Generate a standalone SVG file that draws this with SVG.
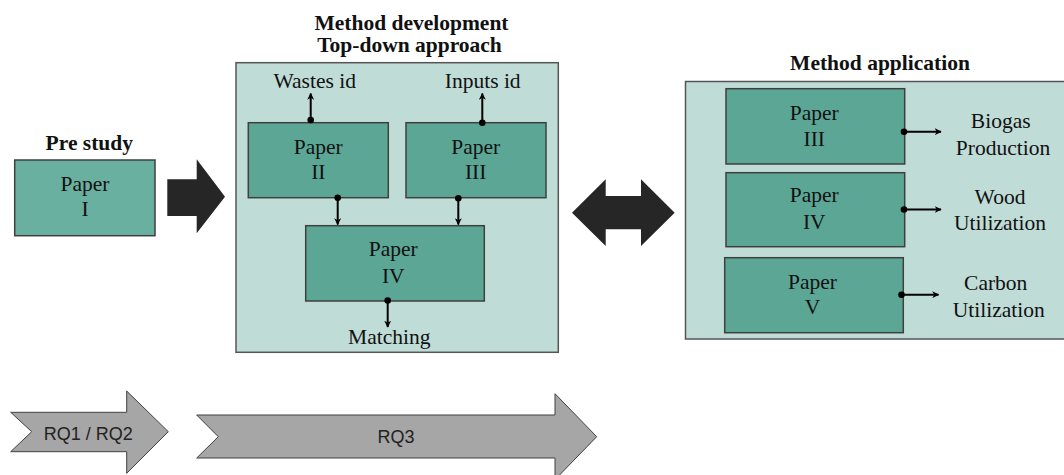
<svg xmlns="http://www.w3.org/2000/svg" width="1064" height="475" viewBox="0 0 1064 475">
<defs>
<style>
.t{font-family:"Liberation Serif","Times New Roman",serif;font-size:21.5px;fill:#111;text-anchor:middle}
.b{font-weight:bold}
.paper{fill:#5ca696;stroke:#3f3f3f;stroke-width:1.5}
.cont{fill:#c0dcd6;stroke:#555;stroke-width:1.5}
.big{fill:#262626;stroke:none}
.rq{fill:#a6a6a6;stroke:#404040;stroke-width:1}
.rqt{font-family:"Liberation Sans",Arial,sans-serif;font-size:18px;fill:#222;text-anchor:middle}
.c{stroke:#000;stroke-width:2;fill:none;marker-end:url(#ah)}
.dot{fill:#000}
</style>
<marker id="ah" viewBox="0 0 10 10" refX="9" refY="5" markerWidth="7" markerHeight="7" markerUnits="userSpaceOnUse" orient="auto">
<path d="M0,0 L10,5 L0,10 L3,5 Z" fill="#000"/>
</marker>
</defs>
<rect width="1064" height="475" fill="#fff"/>

<g id="prestudy">
<text class="t b" x="89.3" y="150">Pre study</text>
<rect x="14.7" y="160" width="140.3" height="75.7" fill="#6ab0a0" stroke="#3f3f3f" stroke-width="1.5"/>
<text class="t" x="85" y="190.7">Paper</text>
<text class="t" x="85" y="215.7">I</text>
</g>

<g id="arrow-right">
<polygon class="big" points="167.3,179.3 196.7,179.3 196.7,159.3 225,196.7 196.7,233.3 196.7,216 167.3,216"/>
</g>

<g id="method-development">
<text class="t b" x="411.5" y="30">Method development</text>
<text class="t b" x="409.5" y="51.7">Top-down approach</text>
<rect class="cont" x="236" y="62.7" width="322.3" height="289.6"/>
<text class="t" x="314.7" y="87.7">Wastes id</text>
<text class="t" x="482.7" y="87.7">Inputs id</text>
<text class="t" x="389.3" y="344">Matching</text>
</g>

<g id="paper2">
<rect class="paper" x="248.3" y="122.7" width="140" height="75"/>
<text class="t" x="318.3" y="154">Paper</text>
<text class="t" x="318.3" y="179">II</text>
</g>

<g id="paper3">
<rect class="paper" x="406" y="122.7" width="140" height="75"/>
<text class="t" x="475.7" y="154">Paper</text>
<text class="t" x="475.7" y="179">III</text>
</g>

<g id="paper4">
<rect class="paper" x="305.7" y="225.7" width="178.6" height="75.3"/>
<text class="t" x="393.3" y="256">Paper</text>
<text class="t" x="393.3" y="282.7">IV</text>
</g>

<g id="double-arrow">
<polygon class="big" points="572,212.7 605.7,179.3 605.7,196 641,196 641,179.3 674.7,212.7 641,246 641,229.3 605.7,229.3 605.7,246"/>
</g>

<g id="method-application">
<text class="t b" x="880" y="70">Method application</text>
<rect class="cont" x="685.5" y="81.5" width="385" height="257.5"/>
<text class="t" x="1000.7" y="128.3">Biogas</text>
<text class="t" x="1003" y="155">Production</text>
<text class="t" x="1000" y="204">Wood</text>
<text class="t" x="1000" y="230">Utilization</text>
<text class="t" x="995.7" y="290">Carbon</text>
<text class="t" x="998.7" y="316.7">Utilization</text>
</g>

<g id="app-paper3">
<rect class="paper" x="726" y="88.7" width="178.7" height="75.3"/>
<text class="t" x="814.3" y="120">Paper</text>
<text class="t" x="814.3" y="146">III</text>
</g>

<g id="app-paper4">
<rect class="paper" x="726" y="172.7" width="178.7" height="74"/>
<text class="t" x="814.3" y="202.3">Paper</text>
<text class="t" x="814.3" y="229">IV</text>
</g>

<g id="app-paper5">
<rect class="paper" x="724.7" y="257.7" width="178.6" height="75"/>
<text class="t" x="812.5" y="288.7">Paper</text>
<text class="t" x="812.5" y="314">V</text>
</g>

<g id="connectors">
<line class="c" x1="310.7" y1="120" x2="310.7" y2="93.5"/>
<circle class="dot" cx="310.7" cy="120" r="3.3"/>
<line class="c" x1="482.3" y1="122.7" x2="482.3" y2="93.5"/>
<circle class="dot" cx="482.3" cy="122.7" r="3.3"/>
<line class="c" x1="337.7" y1="197.7" x2="337.7" y2="224.5"/>
<circle class="dot" cx="337.7" cy="197.7" r="3.3"/>
<line class="c" x1="458.3" y1="198.3" x2="458.3" y2="224.5"/>
<circle class="dot" cx="458.3" cy="198.3" r="3.3"/>
<line class="c" x1="387.7" y1="300.5" x2="387.7" y2="327"/>
<circle class="dot" cx="387.7" cy="300.5" r="3.3"/>
<line class="c" x1="904" y1="131.7" x2="941" y2="131.7"/>
<circle class="dot" cx="904" cy="131.7" r="3.3"/>
<line class="c" x1="904" y1="209.5" x2="941" y2="209.5"/>
<circle class="dot" cx="904" cy="209.5" r="3.3"/>
<line class="c" x1="901.5" y1="294.7" x2="938.5" y2="294.7"/>
<circle class="dot" cx="901.5" cy="294.7" r="3.3"/>
</g>

<g id="rq12">
<polygon class="rq" points="10.7,412.3 126.7,412.3 126.7,391 168.3,431.7 126.7,473.3 126.7,451.7 10.7,451.7 31.7,431.7"/>
<text class="rqt" x="88.3" y="440">RQ1 / RQ2</text>
</g>

<g id="rq3">
<polygon class="rq" points="196.7,415 555,415 555,393.7 596.7,436.7 555,479.7 555,458 196.7,458 218.3,436.7"/>
<text class="rqt" x="396" y="443.3">RQ3</text>
</g>
</svg>
